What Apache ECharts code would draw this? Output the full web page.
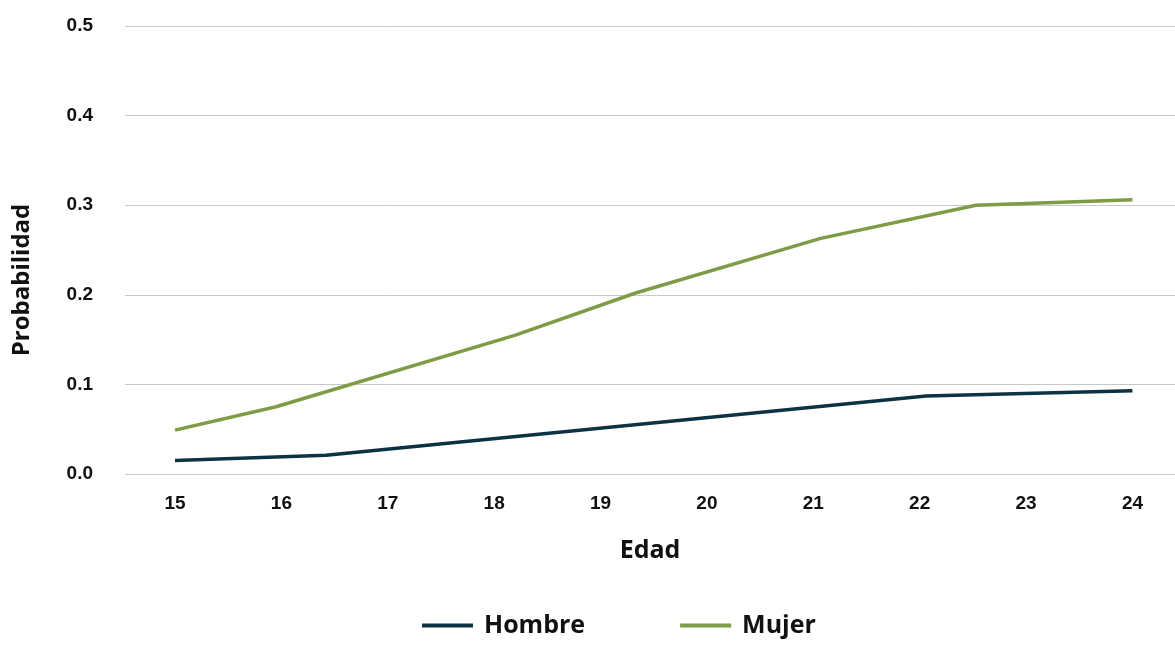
<!DOCTYPE html>
<html>
<head>
<meta charset="utf-8">
<script src="https://cdn.jsdelivr.net/npm/echarts@6/dist/echarts.min.js"></script>
<style>
  html, body { margin: 0; padding: 0; background: #fff; }
  #chart { width: 1175px; height: 645px; }
</style>
</head>
<body>
<div id="chart"></div>
<script>
// etiquetas del eje X
var edades = [15, 16, 17, 18, 19, 20, 21, 22, 23, 24];

// Hombre
var edadHombre = [15, 16.42, 22.06, 24];
var probHombre = [0.015, 0.021, 0.087, 0.093];

// Mujer
var edadMujer = [15, 15.95, 18.2, 19.33, 21.07, 22.53, 24];
var probMujer = [0.049, 0.075, 0.155, 0.202, 0.263, 0.300, 0.306];

function pares(xs, ys) {
    return xs.map(function (x, i) { return [x, ys[i]]; });
}

var myChart = echarts.init(document.getElementById('chart'));
var tickFont = '"Liberation Sans", Arial, sans-serif';
var titleFont = '"Open Sans", sans-serif';

option = {
    animation: false,
    grid: { left: 125, right: 0, top: 26, bottom: 171, outerBoundsMode: 'none', containLabel: false },
    legend: {
        bottom: 2,
        left: 417,
        itemWidth: 51,
        itemHeight: 4,
        itemGap: 95,
        icon: 'rect',
        textStyle: { fontFamily: titleFont, fontWeight: 'bold', fontSize: 25, color: '#111', padding: [0, 0, 0, 6] },
        data: ['Hombre', 'Mujer']
    },
    xAxis: {
        type: 'value',
        min: 14.53,
        max: 24.4,
        name: 'Edad',
        nameLocation: 'middle',
        nameGap: 64,
        nameTextStyle: { fontFamily: titleFont, fontWeight: 'bold', fontSize: 25, color: '#111' },
        axisLine: { show: false },
        axisTick: { show: false },
        splitLine: { show: false },
        axisLabel: {
            customValues: edades,
            margin: 20,
            fontFamily: tickFont,
            fontWeight: 'bold',
            fontSize: 19,
            color: '#111'
        }
    },
    yAxis: {
        type: 'value',
        min: 0,
        max: 0.5,
        interval: 0.1,
        name: 'Probabilidad',
        nameLocation: 'middle',
        nameGap: 91,
        nameTextStyle: { fontFamily: titleFont, fontWeight: 'bold', fontSize: 24, color: '#111', padding: [0, 60, 0, 0] },
        axisLine: { show: false },
        axisTick: { show: false },
        splitLine: { lineStyle: { color: '#c8c8c8', width: 1 } },
        axisLabel: {
            margin: 32,
            fontFamily: tickFont,
            fontWeight: 'bold',
            fontSize: 19,
            color: '#111',
            formatter: function (v) { return v.toFixed(1); }
        }
    },
    series: [
        {
            name: 'Hombre',
            type: 'line',
            showSymbol: false,
            color: '#0c3344',
            lineStyle: { width: 3.5, color: '#0c3344' },
            data: pares(edadHombre, probHombre)
        },
        {
            name: 'Mujer',
            type: 'line',
            showSymbol: false,
            color: '#7d9c45',
            lineStyle: { width: 3.5, color: '#7d9c45' },
            data: pares(edadMujer, probMujer)
        }
    ]
};
myChart.setOption(option);
</script>
</body>
</html>
